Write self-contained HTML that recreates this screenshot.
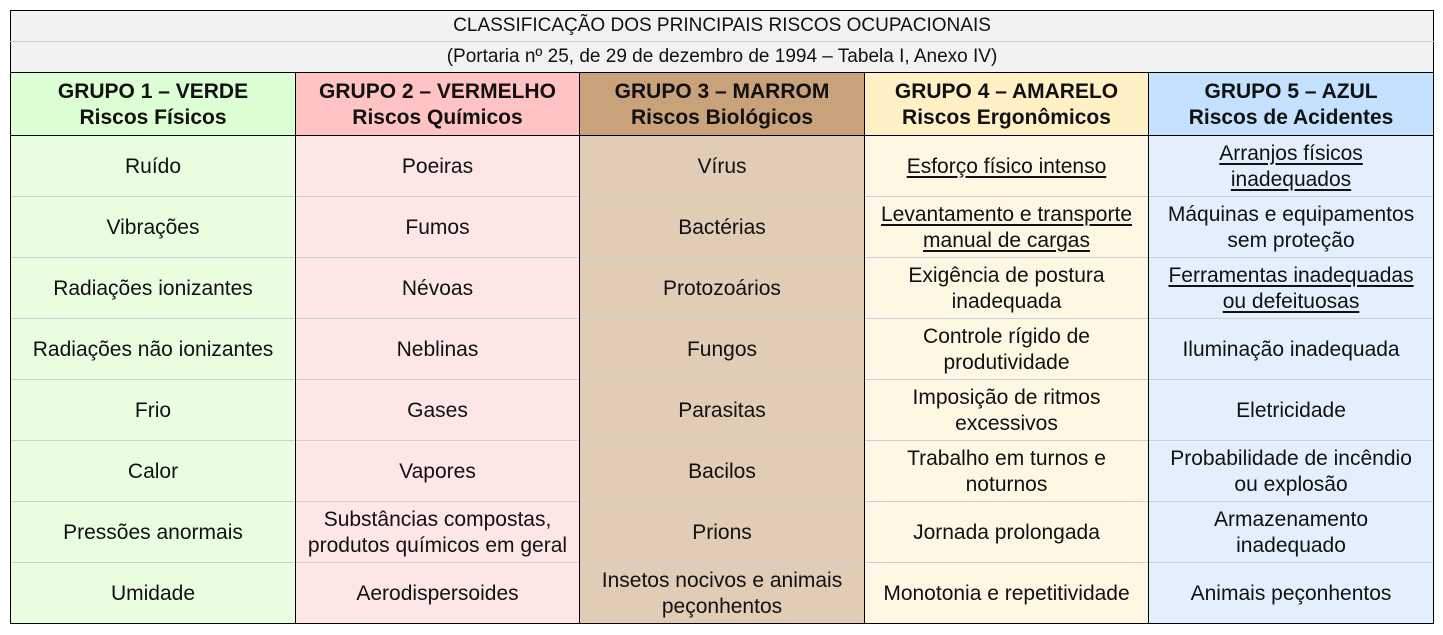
<!DOCTYPE html>
<html><head><meta charset="utf-8"><style>
body{margin:0;background:#fff;width:1443px;height:635px;overflow:hidden}
table{position:absolute;left:10px;top:10px;width:1423px;border-collapse:collapse;table-layout:fixed;font-family:"Liberation Sans",sans-serif;color:#111;text-align:center}
td{padding:1px 2px 0;font-size:21px;line-height:26px;border-left:1px solid #000;border-right:1px solid #000;border-top:1px solid #ccd0d4;height:59px;vertical-align:middle;white-space:nowrap}
tr.t td{background:#f2f2f2;font-size:19px;height:30px;line-height:22px;border:1px solid #000;border-bottom:1px solid #ccc;padding:0}
tr.s td{background:#f2f2f2;font-size:19px;height:30px;line-height:22px;border:1px solid #000;border-top:1px solid #ccc;padding:0}
tr.h td{font-weight:bold;height:61px;border-top:1px solid #000;border-bottom:1px solid #000;font-size:21px}
tr:last-child td{border-bottom:1px solid #000}
.c1{background:#e9fde1}.c2{background:#fde6e6}.c3{background:#e1ccb5}.c4{background:#fff6e3}.c5{background:#e3effd}
tr.h .c1{background:#dcffd3}tr.h .c2{background:#ffc3c3}tr.h .c3{background:#c9a17b}tr.h .c4{background:#fff0c5}tr.h .c5{background:#c4e2ff}
u{text-decoration:underline;text-underline-offset:3px}
</style></head><body>
<table>
<colgroup><col style="width:285px"><col style="width:284px"><col style="width:285px"><col style="width:284px"><col style="width:285px"></colgroup>
<tr class="t"><td colspan="5">CLASSIFICAÇÃO DOS PRINCIPAIS RISCOS OCUPACIONAIS</td></tr>
<tr class="s"><td colspan="5">(Portaria nº 25, de 29 de dezembro de 1994 – Tabela I, Anexo IV)</td></tr>
<tr class="h"><td class="c1">GRUPO 1 – VERDE<br>Riscos Físicos</td><td class="c2">GRUPO 2 – VERMELHO<br>Riscos Químicos</td><td class="c3">GRUPO 3 – MARROM<br>Riscos Biológicos</td><td class="c4">GRUPO 4 – AMARELO<br>Riscos Ergonômicos</td><td class="c5">GRUPO 5 – AZUL<br>Riscos de Acidentes</td></tr>
<tr><td class="c1">Ruído</td><td class="c2">Poeiras</td><td class="c3">Vírus</td><td class="c4"><u>Esforço físico intenso</u></td><td class="c5"><u>Arranjos físicos<br>inadequados</u></td></tr>
<tr><td class="c1">Vibrações</td><td class="c2">Fumos</td><td class="c3">Bactérias</td><td class="c4"><u>Levantamento e transporte<br>manual de cargas</u></td><td class="c5">Máquinas e equipamentos<br>sem proteção</td></tr>
<tr><td class="c1">Radiações ionizantes</td><td class="c2">Névoas</td><td class="c3">Protozoários</td><td class="c4">Exigência de postura<br>inadequada</td><td class="c5"><u>Ferramentas inadequadas<br>ou defeituosas</u></td></tr>
<tr><td class="c1">Radiações não ionizantes</td><td class="c2">Neblinas</td><td class="c3">Fungos</td><td class="c4">Controle rígido de<br>produtividade</td><td class="c5">Iluminação inadequada</td></tr>
<tr><td class="c1">Frio</td><td class="c2">Gases</td><td class="c3">Parasitas</td><td class="c4">Imposição de ritmos<br>excessivos</td><td class="c5">Eletricidade</td></tr>
<tr><td class="c1">Calor</td><td class="c2">Vapores</td><td class="c3">Bacilos</td><td class="c4">Trabalho em turnos e<br>noturnos</td><td class="c5">Probabilidade de incêndio<br>ou explosão</td></tr>
<tr><td class="c1">Pressões anormais</td><td class="c2">Substâncias compostas,<br>produtos químicos em geral</td><td class="c3">Prions</td><td class="c4">Jornada prolongada</td><td class="c5">Armazenamento<br>inadequado</td></tr>
<tr><td class="c1">Umidade</td><td class="c2">Aerodispersoides</td><td class="c3">Insetos nocivos e animais<br>peçonhentos</td><td class="c4">Monotonia e repetitividade</td><td class="c5">Animais peçonhentos</td></tr>
</table>
</body></html>
